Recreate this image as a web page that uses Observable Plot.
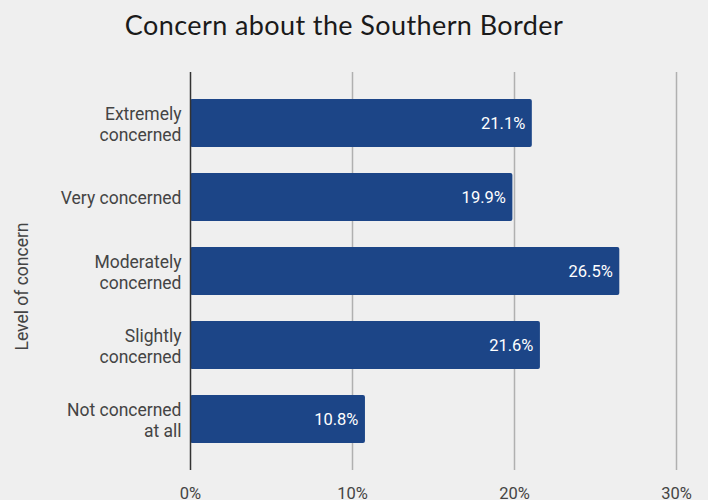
<!DOCTYPE html>
<html>
<head>
<meta charset="utf-8">
<script src="https://cdn.jsdelivr.net/npm/d3@7"></script>
<script src="https://cdn.jsdelivr.net/npm/@observablehq/plot@0.6"></script>
<style>
  html, body { margin: 0; padding: 0; background: #efefef; }
  body { width: 708px; height: 500px; overflow: hidden; }
  #title { height: 60px; box-sizing: border-box; padding-top: 8px; padding-right: 20px; text-align: center;
           font-family: Lato, "Open Sans", sans-serif; font-size: 27px; letter-spacing: 0.4px; color: #1a1a1a; font-weight: 400; }
  #chart svg { display: block; }
</style>
</head>
<body>
<div id="title">Concern about the Southern Border</div>
<div id="chart"></div>
<script>
const categories = ["Extremely concerned", "Very concerned", "Moderately concerned", "Slightly concerned", "Not concerned at all"];
const wrappedLabels = ["Extremely\nconcerned", "Very concerned", "Moderately\nconcerned", "Slightly\nconcerned", "Not concerned\nat all"];
const values = [21.1, 19.9, 26.5, 21.6, 10.8];
const xTicks = [0, 10, 20, 30];
const yTitle = "Level of concern";

const data = categories.map((c, i) => ({category: c, label: wrappedLabels[i], value: values[i]}));
const labelOf = new Map(categories.map((c, i) => [c, wrappedLabels[i]]));

const chart = Plot.plot({
  width: 708,
  height: 440,
  marginLeft: 190,
  marginRight: 32,
  marginTop: 12,
  marginBottom: 30,
  style: {background: "#efefef", fontFamily: "Roboto, sans-serif", fontSize: "16px", color: "#444"},
  x: {domain: [0, 30], ticks: xTicks, tickFormat: d => d + "%", tickSize: 0, tickPadding: 16, label: null},
  y: {domain: categories, paddingInner: 0.347, paddingOuter: 0.327, label: null, tickSize: 0, tickPadding: 9,
      tickFormat: d => labelOf.get(d)},
  marks: [
    Plot.ruleX(xTicks.filter(d => d > 0), {stroke: "#b0b0b0", strokeWidth: 1.5}),
    Plot.barX(data, {x: "value", y: "category", fill: "#1c4587", rx: 2}),
    Plot.ruleX([0], {stroke: "#333", strokeWidth: 1.5}),
    Plot.text(data, {x: "value", y: "category", text: d => d.value.toFixed(1) + "%", textAnchor: "end", dx: -7,
                     fill: "white", fontSize: 16.5}),
    Plot.axisY({tickSize: 0, tickPadding: 9, tickFormat: d => labelOf.get(d), lineHeight: 1.2, fontSize: 17.5, fill: "#444", label: null}),
    Plot.axisX({ticks: xTicks, tickFormat: d => d + "%", tickSize: 0, tickPadding: 17, fontSize: 16.5, fill: "#444", label: null}),
    Plot.text([yTitle], {frameAnchor: "left", textAnchor: "middle", dx: -168, dy: 15, rotate: -90, fontSize: 17.5, fill: "#444", text: d => d})
  ]
});
document.getElementById("chart").appendChild(chart);
</script>
</body>
</html>
